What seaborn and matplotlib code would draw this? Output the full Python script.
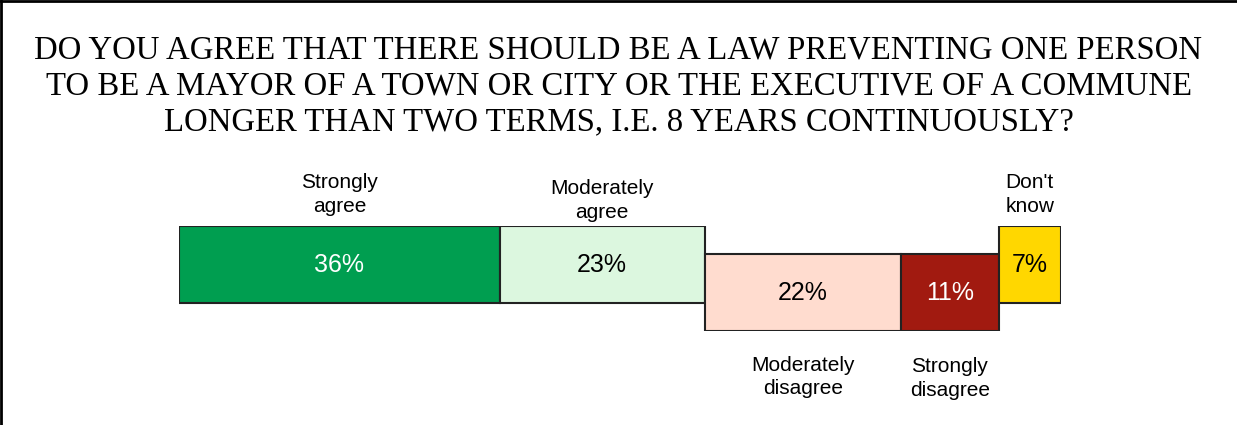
import matplotlib.pyplot as plt
import seaborn as sns
import pandas as pd
from matplotlib.lines import Line2D

# data
categories = ["Strongly agree", "Moderately agree", "Moderately disagree", "Strongly disagree", "Don't know"]
labels = ["Strongly\nagree", "Moderately\nagree", "Moderately\ndisagree", "Strongly\ndisagree", "Don't\nknow"]
values = [36, 23, 22, 11, 7]
colors = ["#009E50", "#DCF7DF", "#FFDCCF", "#A11A10", "#FFD700"]
text_colors = ["white", "black", "black", "white", "black"]

title = ("DO YOU AGREE THAT THERE SHOULD BE A LAW PREVENTING ONE PERSON\n"
         "TO BE A MAYOR OF A TOWN OR CITY OR THE EXECUTIVE OF A COMMUNE\n"
         "LONGER THAN TWO TERMS, I.E. 8 YEARS CONTINUOUSLY?")

# layout: which row each segment sits in (upper = agree / don't know)
upper = {"Strongly agree": True, "Moderately agree": True, "Moderately disagree": False,
         "Strongly disagree": False, "Don't know": True}
label_offset = {"Strongly agree": 10, "Moderately agree": 4, "Moderately disagree": 25,
                "Strongly disagree": 26, "Don't know": 10}

df = pd.DataFrame({"cat": categories, "label": labels, "value": values,
                   "color": colors, "tcolor": text_colors})
df["left"] = df["value"].cumsum() - df["value"]
df["bottom"] = [28 if upper[c] else 0 for c in df["cat"]]

sns.set_theme(style="white")
plt.rcParams["font.family"] = ["Liberation Sans", "DejaVu Sans"]
plt.rcParams["text.color"] = "black"

fig = plt.figure(figsize=(12.37, 4.25), dpi=100)
ax = fig.add_axes([179 / 1237, 94 / 425, 882 / 1237, 105 / 425])

bar_h = 77
ax.barh(df["bottom"], df["value"], left=df["left"], height=bar_h, align="edge",
        color=df["color"], edgecolor="#222222", linewidth=1.5)

for _, r in df.iterrows():
    cx = r["left"] + r["value"] / 2
    cy = r["bottom"] + bar_h / 2
    ax.text(cx, cy, f"{r['value']}%", ha="center", va="center",
            color=r["tcolor"], fontsize=18)
    if upper[r["cat"]]:
        ax.annotate(r["label"], xy=(cx, r["bottom"] + bar_h), xytext=(0, label_offset[r["cat"]]),
                    textcoords="offset pixels", ha="center", va="bottom", fontsize=15,
                    linespacing=1.3, annotation_clip=False, color="black")
    else:
        ax.annotate(r["label"], xy=(cx, r["bottom"]), xytext=(0, -label_offset[r["cat"]]),
                    textcoords="offset pixels", ha="center", va="top", fontsize=15,
                    linespacing=1.3, annotation_clip=False, color="black")

ax.set_xlim(0, sum(values))
ax.set_ylim(0, 105)
ax.axis("off")

fig.text(0.5, 1 - 35 / 425, title, ha="center", va="top", fontsize=23.6, color="black",
         family=["Liberation Serif", "DejaVu Serif"], linespacing=1.22)

# frame on left and top
fig.add_artist(Line2D([0.001, 0.001], [0, 1], transform=fig.transFigure, color="black", lw=2))
fig.add_artist(Line2D([0, 1], [0.998, 0.998], transform=fig.transFigure, color="black", lw=2))

fig.savefig("out.png", dpi=100)
